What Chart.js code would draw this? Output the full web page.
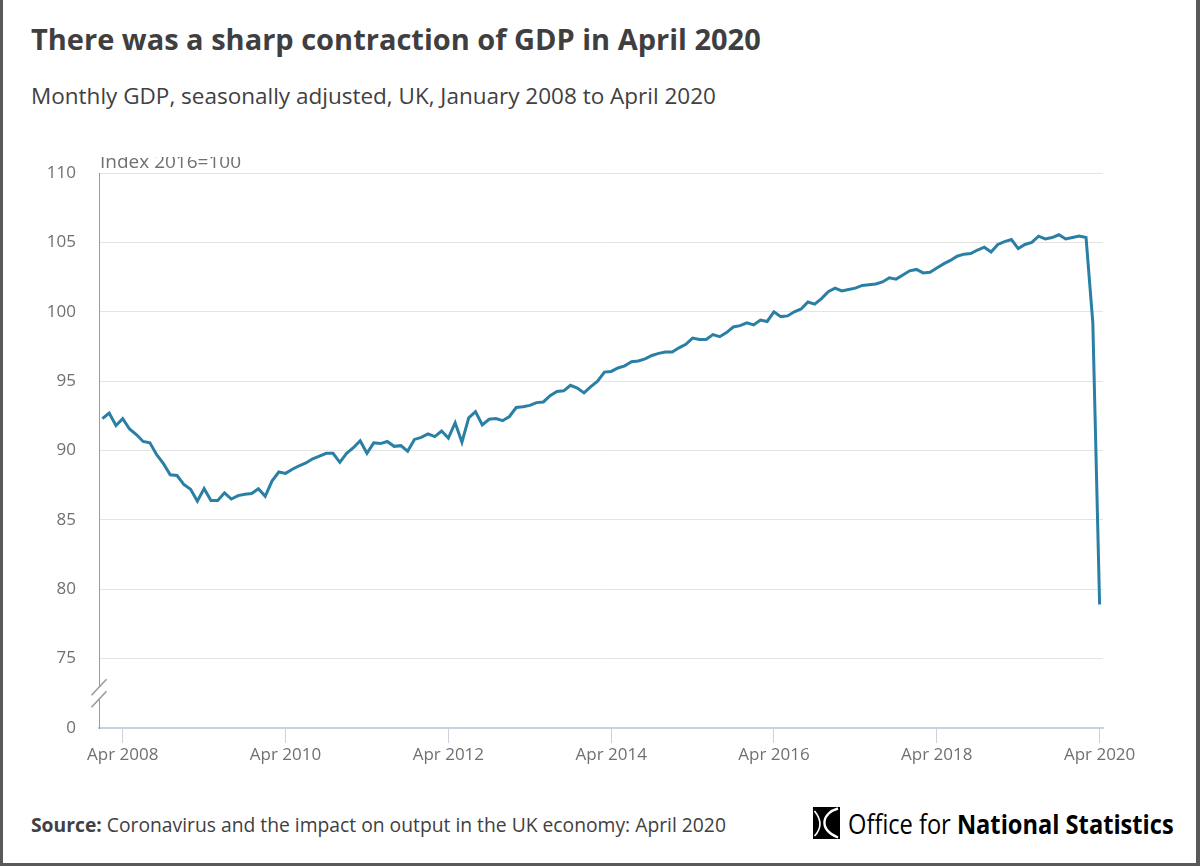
<!DOCTYPE html>
<html>
<head>
<meta charset="utf-8">
<script src="https://cdn.jsdelivr.net/npm/chart.js@4.4.0/dist/chart.umd.min.js"></script>
<style>
  body { margin: 0; width: 1200px; height: 866px; overflow: hidden; background: #fff; position: relative; font-family: 'Open Sans', sans-serif; }
  .edge { position: absolute; background: #58595b; }
  #title { position: absolute; left: 31px; top: 24px; font-size: 29px; line-height: 29px; font-weight: 700; color: #3f3f41; white-space: nowrap; }
  #subtitle { position: absolute; left: 31px; top: 85px; font-size: 22.5px; line-height: 22px; color: #414042; white-space: nowrap; }
  #chartBox { position: absolute; left: 0; top: 157px; width: 1200px; height: 622px; }
  #source { position: absolute; left: 31px; top: 815px; font-size: 19.3px; line-height: 19px; color: #414042; white-space: nowrap; }
  #logo { position: absolute; left: 813px; top: 807px; height: 32px; display: flex; align-items: center; white-space: nowrap; }
  #logo .txt { font-size: 27px; color: #000; transform: scaleX(0.875); transform-origin: left center; margin-left: 8px; }
</style>
</head>
<body>
<div class="edge" style="left:0;top:0;width:3px;height:866px"></div>
<div class="edge" style="left:1196px;top:0;width:4px;height:866px"></div>
<div class="edge" style="left:0;top:863px;width:1200px;height:3px"></div>

<div id="title">There was a sharp contraction of GDP in April 2020</div>
<div id="subtitle">Monthly GDP, seasonally adjusted, UK, January 2008 to April 2020</div>
<div id="chartBox"><canvas id="gdpChart" width="1200" height="622"></canvas></div>
<div id="source"><b>Source:</b> Coronavirus and the impact on output in the UK economy: April 2020</div>
<div id="logo">
  <svg width="27" height="32" viewBox="0 0 27 32">
    <rect x="0" y="0" width="27" height="32" fill="#000"/>
    <path d="M25 1.5 C 9 6, 5 22, 25 30.5" stroke="#fff" stroke-width="2.4" fill="none"/>
    <path d="M1.5 4 C 8 12, 10 20, 1.5 29" stroke="#fff" stroke-width="1.6" fill="none"/>
  </svg>
  <span class="txt">Office for <b>National Statistics</b></span>
</div>

<script>
// Monthly GDP index (2016=100), Jan 2008 .. Apr 2020
const firstYear = 2008;
const monthNames = ['Jan', 'Feb', 'Mar', 'Apr', 'May', 'Jun', 'Jul', 'Aug', 'Sep', 'Oct', 'Nov', 'Dec'];

const gdpIndex = [
  92.3, 92.7, 91.8, 92.3, 91.55, 91.15, 90.65, 90.55, 89.7, 89.05, 88.25, 88.2,
  87.55, 87.2, 86.35, 87.25, 86.4, 86.4, 86.95, 86.5, 86.75, 86.85, 86.9, 87.25,
  86.7, 87.8, 88.45, 88.35, 88.65, 88.9, 89.1, 89.4, 89.6, 89.8, 89.8, 89.15,
  89.8, 90.2, 90.7, 89.8, 90.55, 90.5, 90.65, 90.3, 90.35, 89.95, 90.8, 90.95,
  91.2, 91.0, 91.4, 90.9, 92.0, 90.6, 92.35, 92.8, 91.85, 92.25, 92.3, 92.15,
  92.45, 93.1, 93.15, 93.25, 93.45, 93.5, 93.95, 94.25, 94.3, 94.7, 94.5, 94.15,
  94.6, 95.0, 95.65, 95.7, 95.95, 96.1, 96.4, 96.45, 96.6, 96.85, 97.0, 97.1,
  97.1, 97.4, 97.65, 98.1, 98.0, 98.0, 98.35, 98.2, 98.5, 98.9, 99.0, 99.2,
  99.05, 99.4, 99.3, 100.0, 99.65, 99.7, 100.0, 100.2, 100.7, 100.55, 100.95, 101.45,
  101.7, 101.5, 101.6, 101.7, 101.9, 101.95, 102.0, 102.15, 102.45, 102.35, 102.65, 102.95,
  103.05, 102.8, 102.85, 103.15, 103.45, 103.7, 104.0, 104.15, 104.2, 104.45, 104.65, 104.3,
  104.85, 105.05, 105.2, 104.55, 104.85, 105.0, 105.45, 105.25, 105.35, 105.55, 105.25, 105.35,
  105.45, 105.35, 99.2, 78.9
];

const xTickLabels = ['Apr 2008', 'Apr 2010', 'Apr 2012', 'Apr 2014', 'Apr 2016', 'Apr 2018', 'Apr 2020'];
// 70 stands in for the broken-axis zero
const yTicks = [70, 75, 80, 85, 90, 95, 100, 105, 110];
const yTickText = ['0', '75', '80', '85', '90', '95', '100', '105', '110'];

const monthLabels = gdpIndex.map((v, i) => monthNames[i % 12] + ' ' + (firstYear + Math.floor(i / 12)));

const labelColor = '#707071';
const tickFont = { family: 'Open Sans', size: 17 };

// axis label (clipped at the top like the original) + axis break marks
const extrasPlugin = {
  id: 'extras',
  afterDraw(chart) {
    const ctx = chart.ctx;
    const y = chart.scales.y;
    const axisX = chart.chartArea.left;
    ctx.save();
    ctx.fillStyle = labelColor;
    ctx.font = '19px "Open Sans"';
    ctx.textBaseline = 'alphabetic';
    ctx.fillText('Index 2016=100', axisX + 1, 10.7);

    const mid = (y.getPixelForValue(75) + y.getPixelForValue(70)) / 2;
    const c1 = mid - 6, c2 = mid + 6;
    ctx.fillStyle = '#fff';
    ctx.fillRect(axisX - 2, c1, 4, c2 - c1);
    ctx.strokeStyle = '#9a9a9a';
    ctx.lineWidth = 1.5;
    [c1, c2].forEach(c => {
      ctx.beginPath();
      ctx.moveTo(axisX - 7.5, c + 8);
      ctx.lineTo(axisX + 7.5, c - 8);
      ctx.stroke();
    });
    ctx.restore();
  }
};

new Chart(document.getElementById('gdpChart').getContext('2d'), {
  type: 'line',
  data: {
    labels: monthLabels,
    datasets: [{
      data: gdpIndex,
      borderColor: '#2a7fa5',
      borderWidth: 3,
      pointRadius: 0,
      tension: 0,
      fill: false
    }]
  },
  options: {
    responsive: false,
    animation: false,
    layout: { padding: { top: 16, right: 97, left: 0, bottom: 0 } },
    plugins: { legend: { display: false }, tooltip: { enabled: false } },
    scales: {
      x: {
        type: 'category',
        offset: true,
        afterBuildTicks: s => { s.ticks = s.ticks.filter(t => xTickLabels.includes(monthLabels[t.value])); },
        afterFit: s => { s.height = 51; s.paddingLeft = 0; s.paddingRight = 0; },
        grid: { drawOnChartArea: false, drawTicks: true, tickLength: 15, color: '#c9d3df' },
        border: { color: '#c9d3df', width: 2 },
        ticks: {
          autoSkip: false,
          maxRotation: 0,
          padding: 2,
          color: labelColor,
          font: tickFont,
          callback: function (v) { return this.getLabelForValue(v); }
        }
      },
      y: {
        min: 70,
        max: 110,
        afterBuildTicks: s => { s.ticks = yTicks.map(v => ({ value: v })); },
        afterFit: s => { s.width = 99; s.paddingTop = 0; s.paddingBottom = 0; },
        grid: {
          drawTicks: false,
          color: c => (c.tick && c.tick.value === 70) ? 'rgba(0,0,0,0)' : '#e4e4e4'
        },
        border: { color: '#9a9a9a', width: 1 },
        ticks: {
          padding: 23,
          color: labelColor,
          font: tickFont,
          callback: v => yTickText[yTicks.indexOf(v)]
        }
      }
    }
  },
  plugins: [extrasPlugin]
});
</script>
</body>
</html>
